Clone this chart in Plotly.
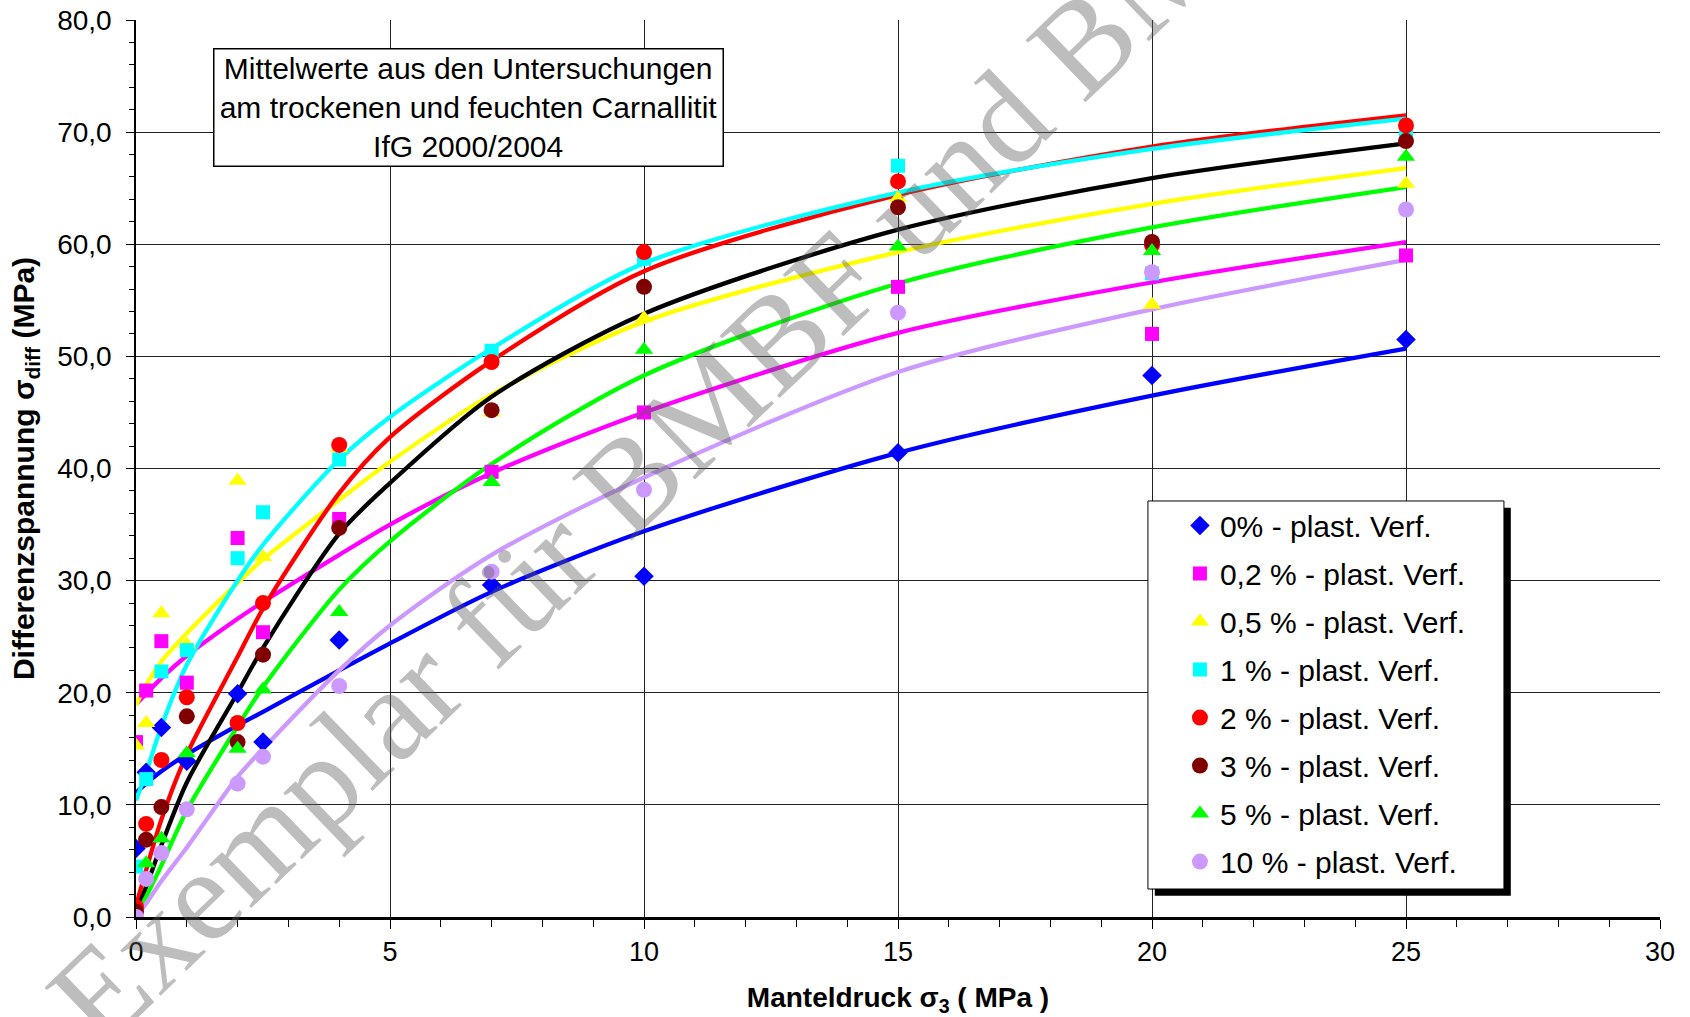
import plotly.graph_objects as go

# Messpunkte (Mittelwerte)
sigma3 = [0, 0.2, 0.5, 1, 2, 2.5, 4, 7, 10, 15, 20, 25]
p_0 = [6.1, 12.9, 16.9, 13.9, 19.9, 15.6, 24.7, 29.6, 30.4, 41.4, 48.3, 51.5]
p_02 = [15.6, 20.2, 24.6, 20.9, 33.8, 25.4, 35.5, 39.7, 45.0, 56.2, 52.0, 59.0]
p_05 = [15.3, 17.3, 27.1, 24.3, 38.9, 32.1, 41.8, 45.0, 53.4, 64.1, 54.6, 65.4]
p_1 = [4.5, 12.3, 21.9, 23.8, 32.0, 36.1, 40.8, 50.5, 58.7, 67.0, 57.4, 70.0]
p_2 = [0.9, 8.3, 14.0, 19.6, 17.3, 28.0, 42.1, 49.5, 59.3, 65.6, 59.9, 70.6]
p_3 = [0.5, 6.9, 9.8, 17.9, 15.6, 23.4, 34.7, 45.2, 56.2, 63.3, 60.2, 69.2]
p_5 = [0.0, 4.8, 7.0, 14.6, 15.0, 20.3, 27.2, 38.8, 50.6, 59.8, 59.4, 67.8]
p_10 = [0.0, 3.4, 5.7, 9.6, 11.9, 14.3, 20.6, 30.8, 38.1, 53.9, 57.5, 63.1]

# Trendlinien
sigma3_fit = [0, 0.2, 0.5, 1, 2, 2.5, 4, 5, 7, 10, 15, 20, 25]
f_0 = [11.1, 11.9, 13.0, 14.5, 17.1, 18.3, 22.0, 24.4, 29.0, 34.4, 41.4, 46.5, 50.7]
f_02 = [19.0, 19.9, 21.3, 23.3, 26.6, 28.1, 32.3, 35.0, 39.6, 45.0, 52.1, 56.6, 60.2]
f_05 = [18.9, 20.7, 22.8, 25.3, 29.8, 31.9, 37.2, 40.6, 46.6, 53.1, 59.3, 63.6, 66.8]
f_1 = [10.4, 12.9, 17.0, 22.5, 30.0, 33.2, 40.8, 44.6, 50.7, 58.3, 64.6, 68.5, 71.2]
f_2 = [1.0, 4.2, 8.7, 14.5, 23.2, 27.5, 37.8, 42.8, 49.6, 57.6, 64.4, 68.7, 71.5]
f_3 = [0.3, 2.7, 6.4, 12.0, 20.0, 24.0, 34.2, 38.7, 46.4, 53.8, 61.3, 65.9, 69.0]
f_5 = [0.0, 1.8, 4.6, 9.5, 17.0, 20.5, 29.2, 33.5, 40.4, 48.3, 56.5, 61.5, 65.1]
f_10 = [0.0, 1.2, 3.2, 6.2, 12.5, 15.0, 22.0, 26.0, 32.3, 39.2, 48.6, 54.2, 58.6]

names = ["0% - plast. Verf.", "0,2 % - plast. Verf.", "0,5 % - plast. Verf.",
         "1 % - plast. Verf.", "2 % - plast. Verf.", "3 % - plast. Verf.",
         "5 % - plast. Verf.", "10 % - plast. Verf."]
points = [p_0, p_02, p_05, p_1, p_2, p_3, p_5, p_10]
fits = [f_0, f_02, f_05, f_1, f_2, f_3, f_5, f_10]
colors = ["#0000FF", "#FF00FF", "#FFFF00", "#00FFFF", "#FF0000", "#800000", "#00FF00", "#CC99FF"]
line_colors = ["#0000FF", "#FF00FF", "#FFFF00", "#00FFFF", "#FF0000", "#000000", "#00FF00", "#CC99FF"]
symbols = ["diamond", "square", "triangle-up", "square", "circle", "circle", "triangle-up", "circle"]
sizes = [15, 14, 16, 14, 16, 16, 16, 16]

fig = go.Figure()

# trend lines first (red below cyan)
line_order = [0, 1, 2, 4, 3, 5, 6, 7]
for i in line_order:
    fig.add_trace(go.Scatter(
        x=sigma3_fit, y=fits[i], mode="lines",
        line=dict(color=line_colors[i], width=4.3, shape="spline", smoothing=0.8),
        showlegend=False, hoverinfo="skip"
    ))

for i in range(8):
    fig.add_trace(go.Scatter(
        x=sigma3, y=points[i], mode="markers", name=names[i],
        legendgroup=str(i),
        marker=dict(symbol=symbols[i], color=colors[i], size=sizes[i], line=dict(width=0))
    ))

font = "Liberation Sans, Arial, sans-serif"

# legend frame with shadow
lx0, lx1, ly0, ly1 = 0.664, 0.8976, 0.0312, 0.4638
shapes = [
    dict(type="rect", xref="paper", yref="paper", x0=lx0 + 0.0045, x1=lx1 + 0.0045,
         y0=ly0 - 0.0075, y1=ly1 - 0.0075, fillcolor="black", line=dict(width=0), layer="above"),
    dict(type="rect", xref="paper", yref="paper", x0=lx0, x1=lx1, y0=ly0, y1=ly1,
         fillcolor="white", line=dict(color="black", width=1), layer="above"),
]

annotations = [
    dict(x=0.2185, y=0.903, xref="paper", yref="paper", xanchor="center", yanchor="middle",
         text="Mittelwerte aus den Untersuchungen<br>am trockenen und feuchten Carnallitit<br>IfG 2000/2004",
         showarrow=False, font=dict(family=font, size=30, color="black"),
         bgcolor="white", bordercolor="black", borderwidth=1.5, borderpad=0,
         width=508, height=116, align="center", valign="middle"),
    # watermark
    dict(x=0.3643, y=0.552, xref="paper", yref="paper", xanchor="center", yanchor="middle",
         text="Exemplar für BMBF und BMWi", showarrow=False, textangle=-44,
         font=dict(family="Liberation Serif, Times New Roman, serif", size=132,
                   color="rgba(90,90,90,0.4)")),
]

fig.update_layout(
    width=1690, height=1017,
    margin=dict(l=136, r=30, t=20, b=100, autoexpand=False),
    paper_bgcolor="white", plot_bgcolor="white",
    separators=",.",
    font=dict(family=font, size=28, color="black"),
    showlegend=True,
    legend=dict(x=0.685, y=0.4654, xanchor="left", yanchor="top",
                bgcolor="rgba(0,0,0,0)", borderwidth=0,
                font=dict(family=font, size=30, color="black"),
                traceorder="grouped", tracegroupgap=6, itemsizing="trace"),
    shapes=shapes,
    annotations=annotations,
    xaxis=dict(
        range=[0, 30], dtick=5, tick0=0, automargin=False,
        showgrid=True, gridcolor="#222222", gridwidth=1,
        showline=True, linecolor="black", linewidth=2.5,
        ticks="outside", ticklen=9, tickcolor="black", tickwidth=1.2,
        minor=dict(dtick=1, ticks="outside", ticklen=7, tickcolor="black", showgrid=False),
        tickfont=dict(size=27), zeroline=False,
        title=dict(text="<b>Manteldruck σ<sub>3</sub> ( MPa )</b>", font=dict(size=28), standoff=22),
    ),
    yaxis=dict(
        range=[0, 80], dtick=10, tick0=0, tickformat=".1f", automargin=False,
        showgrid=True, gridcolor="#222222", gridwidth=1,
        showline=True, linecolor="black", linewidth=1.5,
        ticks="outside", ticklen=8, tickcolor="black", tickwidth=1.2,
        minor=dict(dtick=2, ticks="outside", ticklen=5, tickcolor="black", showgrid=False),
        tickfont=dict(size=28), zeroline=False, ticklabelstandoff=9,
        title=dict(text="<b>Differenzspannung σ<sub>diff</sub> (MPa)</b>", font=dict(size=30), standoff=14),
    ),
)

# page without the default body margin, so the figure fills the window
fig.write_html("out.html", config={"displayModeBar": False},
               post_script="document.body.style.margin='0';")
